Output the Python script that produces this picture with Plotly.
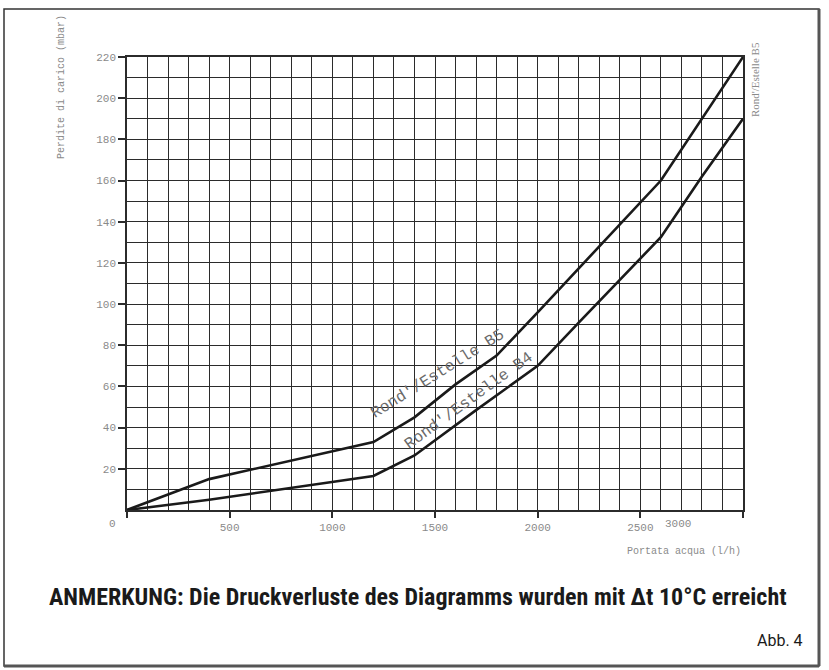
import plotly.graph_objects as go

# ---- data ----
flow_b5 = [0, 400, 1200, 1400, 1600, 1800, 2000, 2300, 2600, 3000]
dp_b5 = [0, 15, 33, 45, 61, 75, 96, 128, 160, 220]
flow_b4 = [0, 400, 1200, 1400, 1700, 2000, 2200, 2400, 2600, 2800, 3000]
dp_b4 = [0, 5, 16.5, 26.5, 48.5, 70, 91, 112, 132.5, 162, 190]
x_tick_vals = [0, 500, 1000, 1500, 2000, 2500, 3000]
x_tick_text = ["", "500", "1000", "1500", "2000", "2500", ""]
y_tick_vals = [20, 40, 60, 80, 100, 120, 140, 160, 180, 200, 220]
y_tick_text = ["20", "40", "60", "80", "100", "120", "140", "160", "180", "200", "220"]

W, H = 829, 670
L, R, T, B = 127, 743, 57, 510  # plot area in pixels


def px(xp):
    return (xp - L) / (R - L)


def py(yp):
    return (B - yp) / (B - T)


GRID = "#2b2b2b"
MONO = "Liberation Mono, DejaVu Sans Mono, monospace"
TXT = "#8a8a8a"

fig = go.Figure()
fig.add_trace(go.Scatter(x=flow_b5, y=dp_b5, mode="lines",
                         line=dict(color="#1a1a1a", width=2.6), showlegend=False))
fig.add_trace(go.Scatter(x=flow_b4, y=dp_b4, mode="lines",
                         line=dict(color="#1a1a1a", width=2.6), showlegend=False))

fig.update_layout(
    width=W, height=H,
    margin=dict(l=L, r=W - R, t=T, b=H - B, pad=0),
    paper_bgcolor="white", plot_bgcolor="white",
    font=dict(family=MONO, size=11, color=TXT),
    xaxis=dict(range=[0, 3000], tickmode="array", tickvals=x_tick_vals, ticktext=x_tick_text,
               ticks="outside", ticklen=6, tickwidth=1.5, tickcolor=GRID,
               showgrid=True, gridcolor=GRID, gridwidth=1.4,
               minor=dict(dtick=100, showgrid=True, gridcolor=GRID, gridwidth=1.4, ticks=""),
               showline=True, linecolor=GRID, linewidth=1.6, mirror=True,
               zeroline=False, tickfont=dict(family=MONO, size=11, color=TXT)),
    yaxis=dict(range=[0, 220], tickmode="array", tickvals=y_tick_vals, ticktext=y_tick_text,
               ticks="outside", ticklen=7, tickwidth=1.5, tickcolor=GRID,
               showgrid=True, gridcolor=GRID, gridwidth=1.4,
               minor=dict(dtick=10, showgrid=True, gridcolor=GRID, gridwidth=1.4, ticks=""),
               showline=True, linecolor=GRID, linewidth=1.6, mirror=True,
               zeroline=False, tickfont=dict(family=MONO, size=11, color=TXT)),
)

ann = []
# x tick labels placed as in the scan
ann.append(dict(x=0, y=0, xref="x", yref="y", text="0", showarrow=False,
                xshift=-15, yshift=-14, font=dict(family=MONO, size=11, color=TXT)))
ann.append(dict(x=2700, y=0, xref="x", yref="y", text="3000", showarrow=False,
                yshift=-14, xshift=-3, font=dict(family=MONO, size=11, color=TXT)))
# axis titles
ann.append(dict(x=px(62), y=py(13), xref="paper", yref="paper", text="Perdite di carico (mbar)",
                showarrow=False, textangle=-90, xanchor="center", yanchor="top",
                font=dict(family=MONO, size=10, color=TXT)))
ann.append(dict(x=1, y=py(551), xref="paper", yref="paper", text="Portata acqua (l/h)",
                showarrow=False, xanchor="right", yanchor="middle",
                font=dict(family=MONO, size=10, color=TXT)))
# curve labels
ann.append(dict(x=1515, y=66, xref="x", yref="y", text="Rond'/Estelle B5", showarrow=False,
                textangle=-32, font=dict(family=MONO, size=16, color="#6a6a6a")))
ann.append(dict(x=1665, y=53, xref="x", yref="y", text="Rond'/Estelle B4", showarrow=False,
                textangle=-36, font=dict(family=MONO, size=16, color="#6a6a6a")))
ann.append(dict(x=px(755), y=py(80), xref="paper", yref="paper", text="Rond'/Estelle B5",
                showarrow=False, textangle=-90, xanchor="center", yanchor="middle",
                font=dict(family="Liberation Serif, serif", size=11, color="#8a8a8a")))
# notes
ann.append(dict(x=px(418), y=py(597), xref="paper", yref="paper",
                text="<b>ANMERKUNG: Die Druckverluste des Diagramms wurden mit Δt 10°C erreicht</b>",
                showarrow=False, xanchor="center", yanchor="middle",
                font=dict(family="Liberation Sans Narrow, Roboto Condensed, Roboto, sans-serif",
                          size=24, color="#1a1a1a")))
ann.append(dict(x=px(805), y=py(640), xref="paper", yref="paper", text="Abb. 4",
                showarrow=False, xanchor="right", yanchor="middle",
                font=dict(family="Liberation Sans Narrow, Roboto, sans-serif", size=16, color="#1a1a1a")))
fig.update_layout(annotations=ann)

# outer frame
fig.add_shape(type="rect", xref="paper", yref="paper",
              x0=px(4), x1=px(819), y0=py(666), y1=py(9),
              line=dict(color="#333333", width=1.5), layer="above")
fig.add_shape(type="line", xref="paper", yref="paper",
              x0=px(819), x1=px(819), y0=py(666), y1=py(9),
              line=dict(color="#555555", width=3))
fig.add_shape(type="line", xref="paper", yref="paper",
              x0=px(4), x1=px(819), y0=py(666), y1=py(666),
              line=dict(color="#555555", width=3))

fig.write_html("out.html")
